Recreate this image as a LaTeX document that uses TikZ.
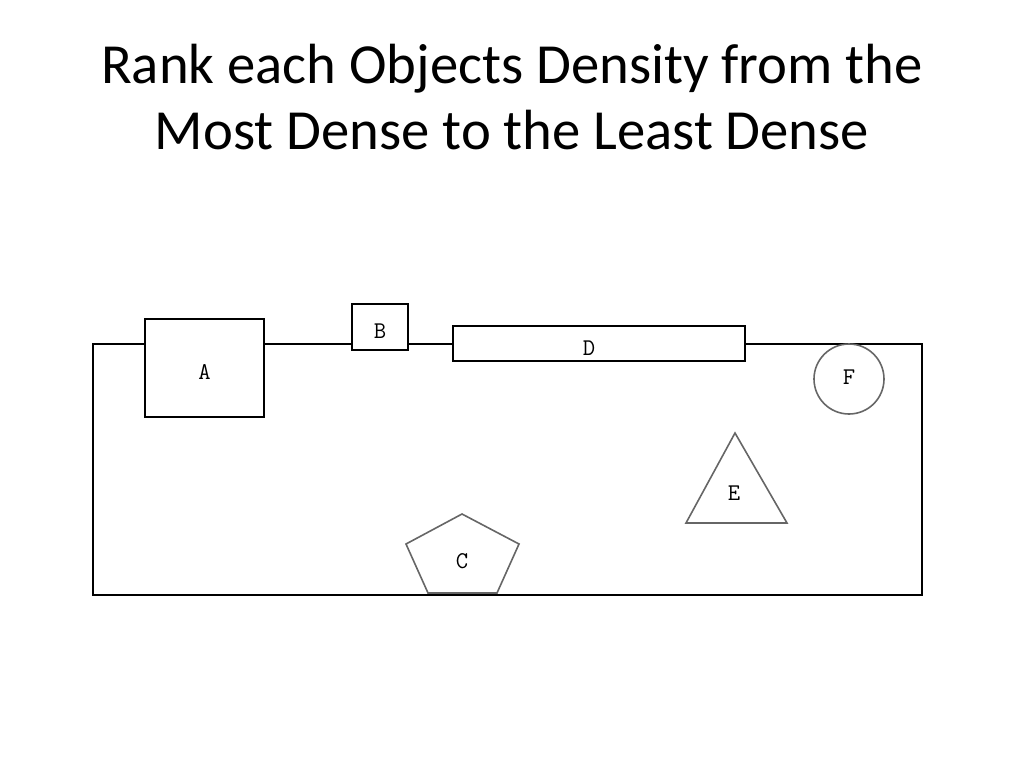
\documentclass[tikz,border=0pt]{standalone}
\usepackage{fontspec}
\setmainfont{Carlito}
\newfontfamily\monof{Latin Modern Mono}
\begin{document}
\begin{tikzpicture}[x=0.75pt,y=-0.75pt,
  shp/.style={draw=black,line width=1.2pt},
  lbl/.style={font=\monof\fontsize{18}{18}\selectfont}]
\useasboundingbox (0,0) rectangle (1024,768);
\node[font=\fontsize{42.5}{50}\selectfont,align=center] (title) at (512,97) {Rank each Objects Density from the\\Most Dense to the Least Dense};
\coordinate (tl) at (93,344);
\coordinate (bl) at (93,595);
\coordinate (br) at (922,595);
\coordinate (tr) at (922,344);
\draw[shp] (145,344) -- (tl) -- (bl) -- (br) -- (tr) -- (745,344);
\draw[shp] (264,344) -- (352,344);
\draw[shp] (408,344) -- (453,344);
\draw[shp] (145,319) rectangle (264,417);
\node[lbl] (A) at (204.5,372) {A};
\draw[shp] (352,304) rectangle (408,350);
\node[lbl] (B) at (380,331) {B};
\draw[shp] (453,326) rectangle (745,361);
\node[lbl] (D) at (589,348) {D};
\draw[shp,gray!80!black] (849,379) circle (35);
\node[lbl] (F) at (849,377) {F};
\draw[shp,gray!80!black] (735,433) -- (787,523) -- (686,523) -- cycle;
\node[lbl] (E) at (734,493) {E};
\draw[shp,gray!80!black] (462,514) -- (519,544) -- (497,593) -- (428,593) -- (406,544) -- cycle;
\node[lbl] (C) at (462,561) {C};
\end{tikzpicture}
\end{document}
